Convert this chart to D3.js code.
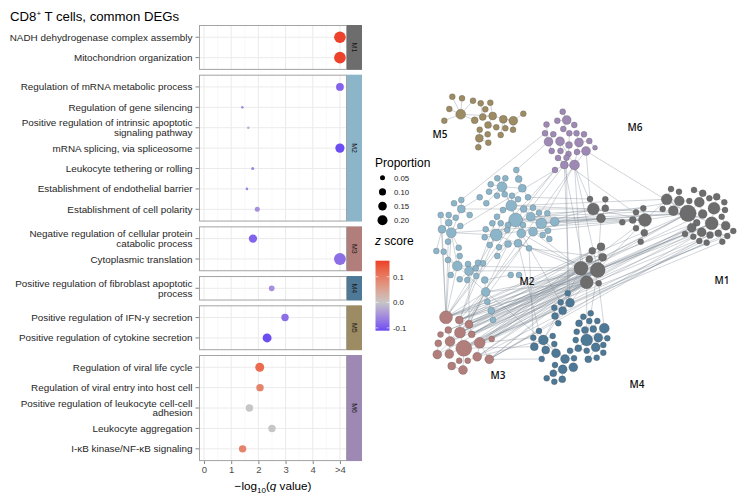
<!DOCTYPE html>
<html><head><meta charset="utf-8">
<script src="https://cdn.jsdelivr.net/npm/d3@7"></script>
<style>body{margin:0;background:#fff}svg{display:block;font-family:"Liberation Sans",Arial,sans-serif}</style>
</head><body><svg id="c" width="743" height="500"></svg>
<script>
// ---------------- DATA ----------------
const modules = ["M1","M2","M3","M4","M5","M6"];
const moduleColors = ["#6d6d6d","#8cb5ca","#b27e7b","#4d7896","#9c8b63","#9d89b4"];
const termLabels = [
 "NADH dehydrogenase complex assembly",
 "Mitochondrion organization",
 "Regulation of mRNA metabolic process",
 "Regulation of gene silencing",
 "Positive regulation of intrinsic apoptotic\nsignaling pathway",
 "mRNA splicing, via spliceosome",
 "Leukocyte tethering or rolling",
 "Establishment of endothelial barrier",
 "Establishment of cell polarity",
 "Negative regulation of cellular protein\ncatabolic process",
 "Cytoplasmic translation",
 "Positive regulation of fibroblast apoptotic\nprocess",
 "Positive regulation of IFN-\u03B3 secretion",
 "Positive regulation of cytokine secretion",
 "Regulation of viral life cycle",
 "Regulation of viral entry into host cell",
 "Positive regulation of leukocyte cell-cell\nadhesion",
 "Leukocyte aggregation",
 "I-\u03BAB kinase/NF-\u03BAB signaling"
];
const termModule = ["M1","M1","M2","M2","M2","M2","M2","M2","M2","M3","M3","M4","M5","M5","M6","M6","M6","M6","M6"];
// -log10(q); 5 stands for ">4"
const negLog10Q = [5,5,5,1.41,1.63,5,1.79,1.58,1.96,1.8,5,2.49,2.98,2.32,2.05,2.06,1.67,2.5,1.42];
const proportion = [0.27,0.27,0.12,0.014,0.014,0.17,0.018,0.014,0.05,0.14,0.28,0.065,0.11,0.16,0.16,0.11,0.11,0.11,0.11];
const zScore = [0.16,0.16,-0.09,-0.05,-0.02,-0.11,-0.06,-0.06,-0.05,-0.09,-0.08,-0.05,-0.08,-0.11,0.12,0.09,0.0,0.0,0.09];
const xTickValues = [0,1,2,3,4,5];
const xTickLabels = ["0","1","2","3","4",">4"];
const sizeLegendValues = [0.05,0.10,0.15,0.20];
const sizeLegendLabels = ["0.05","0.10","0.15","0.20"];
const zLegendValues = [0.1,0.0,-0.1];
const zLegendLabels = ["0.1","0.0","-0.1"];

// Network layout (layout units), [x, y, weight]
const netM1 = [[590,199,3],[605.3,199.3,3],[593.3,209,6],[605.3,208.3,3.5],[601,218.3,4.5],[643.3,208.3,3],[636,212.3,3],[632.7,220,3.5],[645,220,6.5],[622.3,222.3,3],[636,228.3,3],[644.3,232.7,3.5],[640.7,241.7,3],
 [671,189,3],[679,191.7,3],[666.7,199.3,5.5],[679.3,201,5],[694,190,3],[702.7,193.3,3.5],[709.3,198.3,3],[716.7,196.7,3.5],[689.3,201,3],[699.3,202.3,5],[724.3,202.3,3],[662.7,209,3],[673.3,210.7,5],[688,213.3,8.3],[702.7,214,4.5],[714,208.3,6],[725,210,3],[696.7,222.7,3.5],[711.7,223.3,6.5],[721.7,216.7,3],[691.7,227.7,4.5],[701.7,232.3,4.5],[725.7,225.7,4.5],[733.3,231,3],[685,234,3],[693.3,236.7,3],[710,235,3.5],[718.3,233.3,3.5],[727.3,236,3],[699.3,241,3],[706.7,242.7,3],[722.3,241.7,3],
 [592.3,250.7,3.5],[601,246.7,4],[589.3,259.3,3.5],[602.7,257.3,4],[581,268.3,7],[597.7,270,7.5],[586.7,282.3,6.5],[598.7,283.3,3]];
const netM2 = [[516.3,170,3],[497.3,178.3,3],[505.3,178.3,3],[490.7,184.3,3],[502,186.7,5],[518.7,179,3.5],[522.3,188.3,4],[489,191.7,3],[497,195.7,3],[504.7,194.3,3],[512,195.7,3],[479.7,197.3,3],[518,199.3,3],[528,197.3,3],[486.3,203.3,3],[511.3,205.7,5.5],[523.7,209,3.5],[533,207.7,3],[503,210,3],[497,216.7,3],[515.7,220,7],[530.7,216.7,4.5],[539,212.7,3],[547.3,213.3,3],[541.3,223.3,5.5],[554.7,221.7,4.5],[492.3,223.3,3],[500.7,223.3,3],[508,225,3],[523,225,3],[533,231.7,4.5],[548,230.7,3],[485.7,229.3,3],[507.3,230,3],[496.3,235,6],[521.3,233.3,4.5],[542.7,235,3],[484.7,237.3,3],[489.7,245,3],[499,247.3,3],[508,244,3.5],[518,243.3,4],[529,248.3,3],[549.3,239,3],[497.3,256,3],
 [461.3,200,3],[454,203.3,3],[440.7,215,3],[448.7,215,3],[461.3,209,4],[455.7,217.7,3],[469.7,215,3],[448.7,222.7,3.5],[460.3,226,3],[442,229.3,4],[451.3,232.7,5],[448,241.7,3],
 [436.3,251,3],[443.7,251.7,3],[458.7,247.7,3],[459.7,256,3],[448,260,3],[457.3,266,5],[468,264,3],[469,271,4.5],[478,262.7,3],[475.7,268.3,3],[483,263.3,3],[450.7,275,3],[459.7,279.3,3],[467.3,280,3],[476.3,276,3],[484.7,280,3.5],[485.7,292,4.5],[487.3,301.7,3],[491.3,310.7,3.5],[493,320,3],[510.7,275,3],[519,275,3]];
const netM3 = [[446,317.3,6.5],[459.3,320,4],[469,324.3,4],[448.3,330,3.5],[460,332.5,5.5],[471.7,334.3,3.5],[440.5,334.5,3],[491.7,339,3],[450,341.5,5],[479.7,342.8,5.5],[438.3,343.3,3.5],[463.8,348.3,8],[437.3,354.5,4.5],[449.3,354,4.5],[477.2,356.7,4.5],[459.2,360.7,3],[467.7,360.7,3],[489.3,359.3,4.5],[451.7,366,4],[463,370,4.5]];
const netM4 = [[567.7,293.3,3],[560.7,302.3,3],[570,302.7,4.5],[554.3,307.7,3],[562.7,310.7,4],[555,316,3.5],[558.3,323.3,3],
 [539,331,3],[533.3,337.7,3],[543.3,340,5],[552.7,336,3],[534.3,346.7,4],[545.7,350,4],[554.3,344,3],[556,353.3,4.5],[541.7,359,3],[570,350.7,3],
 [565,359,4.5],[574,358.3,3],[555,365,3],[562.7,369.3,4.5],[573.3,367.3,4.5],[553.3,373.3,3.5],[546.7,378.3,3],[554.3,381.7,3],[562.3,379.3,3.5],
 [590.7,313.3,3],[583.3,316.7,3],[579,323.3,3.5],[589.3,321,3],[597.3,321,3],[604.3,328.3,5],[576.7,331.7,3],[585,330,3.5],[593.3,329,3.5],[575.7,340,3],[586.7,340,6],[598.3,337.7,4.5],[607.3,338.3,3],[578.3,348.3,3.5],[586.7,350.7,3],[595.7,347.3,4.5],[603.3,345,3],[588.3,359.3,3.5],[596.7,357.7,3],[603.3,352.7,3]];
const netM5 = [[460.7,114.3,5],[452.3,96.7,3],[462,98.3,3],[473,100.7,3],[449.3,109,3],[444.3,120.7,3],[474.7,120.3,3.5],[480.7,103.3,3],[490.3,102.7,3],[485.3,109.3,3],[482.7,117,3.5],[492.7,116,4],[503.3,119.3,4],[513.3,120.7,4.5],[523.3,113.7,3],[488,125,3.5],[496.3,127.3,3],[505.3,128.3,3],[513,129.7,3],[479.7,129.7,3],[487.7,134.3,3],[500.7,135,3],[479.3,138.3,4],[488.3,142.7,3],[478.3,147.3,3]];
const netM6 = [[562.7,111.7,3],[557.3,120.7,3],[566.7,120,4.5],[546.5,124.5,3],[574.3,125,3],[563.3,129,3],[545,133.3,3],[553.3,134.3,3],[569.3,133.3,3],[576.5,133.3,3],[584,134.3,3],[548.5,141.7,4.5],[560,141.3,4.5],[569,145,3.5],[579,142.5,4.5],[589.3,141,3],[595,147.7,2.5],[551.7,151,3],[560.5,151,3],[568.5,154,3],[577,152,3],[586,151,4.5],[558,158,3],[566.5,157.7,3],[555,170,3],[564.3,165,4],[574.5,165,5]];
const netLabelPos = [[722,280],[527,281],[498,375],[637,384],[440,134],[635,127]];
// cross-module and sub-cluster links: [moduleIndex, node, moduleIndex, node]
const netLinks = [
 [2,0,0,49],[2,0,0,50],[2,1,0,49],[2,1,0,50],[2,2,0,51],[2,4,0,50],[2,4,0,26],[2,5,0,49],[2,7,0,50],[2,7,0,51],[2,9,0,49],[2,9,0,31],[2,11,0,50],[2,11,0,33],[2,14,0,51],[2,17,0,51],[2,17,0,34],[2,2,0,37],[2,5,0,38],[2,9,0,42],[2,0,0,46],[2,1,0,48],[2,4,0,47],[2,0,0,30],[2,11,0,44],[2,14,0,40],[2,17,0,35],[2,2,0,27],[2,7,0,43],[2,9,0,45],[2,0,0,26],[2,3,0,31],[2,8,0,39],[2,12,0,50],[2,13,0,51],[2,1,0,34],[2,5,0,41],
 [2,2,0,49],[2,5,0,50],[2,9,0,50],[2,11,0,49],[2,4,0,51],[2,1,0,51],[2,0,0,51],[2,5,0,26],[2,9,0,36],[2,4,0,31],[2,2,0,33],[2,11,0,30],[2,14,0,50],[2,7,0,49],[2,17,0,50],[2,3,0,50],[2,8,0,49],[2,1,0,46],[2,2,0,45],[2,5,0,48],
 [2,9,3,8],[2,17,3,7],[2,11,3,11],[2,14,3,9],[2,17,3,15],
 [2,0,1,55],[2,0,1,62],[2,1,1,34],[2,0,1,20],[2,2,1,64],[2,4,1,73],[2,1,1,24],[2,0,1,54],[2,0,1,52],[2,2,1,40],[2,8,1,41],[2,4,1,30],[2,0,1,47],[2,1,1,19],[2,0,1,73],[2,2,1,73],[2,0,1,34],
 [1,20,0,2],[1,20,0,8],[1,24,0,2],[1,24,0,8],[1,25,0,4],[1,25,0,26],[1,15,0,15],[1,21,0,25],[1,30,0,9],[1,13,0,0],[1,49,0,2],[1,55,0,8],[1,34,0,4],[1,35,0,49],[1,41,0,50],[1,42,0,48],[1,24,0,26],[1,20,0,26],[1,25,0,16],[1,62,0,49],[1,64,0,50],[1,73,0,50],[1,73,0,51],[1,34,0,49],[1,23,0,5],[1,15,0,2],[1,21,0,8],[1,30,0,49],
 [5,24,1,20],[5,26,1,24],[5,26,0,49],[5,26,0,50],[5,25,0,51],[5,23,3,0],[5,24,1,34],[5,26,1,41],[5,22,0,8],[5,11,1,0],[5,6,1,45],[5,25,3,2],[5,26,0,2],[5,21,0,0],[5,24,1,55],[5,25,2,0],[5,21,0,26],
 [3,36,0,51],[3,31,0,52],[3,2,0,51],[3,0,0,50],[3,9,0,49],[3,36,0,50],[3,9,1,73],[3,7,1,41],[3,1,1,35],[3,8,1,42],
 [0,2,0,8],[0,8,0,26],[0,4,0,50],[0,2,0,26],[0,8,0,50],[0,49,0,26],[0,50,0,31],[0,8,0,15],[0,49,0,8],[0,50,0,33],
 [1,20,1,34],[1,20,1,15],[1,55,1,62],[1,34,1,55],[1,62,1,73],[1,4,1,15],
 [3,9,3,4],[3,36,3,17],[3,9,3,17],[4,0,4,11]
];

// ---------------- CHART ----------------
const svg = d3.select("#c");
const FONT = '"Liberation Sans", Arial, Helvetica, sans-serif';

const title = svg.append("text").attr("x",10).attr("y",21).attr("font-size",13.2).attr("fill","#000").attr("font-family",FONT);
title.append("tspan").text("CD8");
title.append("tspan").attr("font-size",8).attr("dy",-5).text("+");
title.append("tspan").attr("dy",5).text(" T cells, common DEGs");

const panelLeft = 199, panelRight = 347, stripW = 15;
const rowH = 20.4, gapH = 4.8, top0 = 25, padU = 0.6;
const x = d3.scaleLinear().domain([-0.184, 5.26]).range([panelLeft, panelRight]);
const sizeScale = d3.scaleSqrt().domain([0,0.2]).range([0,5]);
const zColor = d3.scaleLinear().domain([-0.111,0,0.163]).range(["#6a4cf2","#c6c6c6","#ec3d27"]).interpolate(d3.interpolateLab).clamp(true);

const terms = termLabels.map((t,i)=>({label:t,module:termModule[i],q:negLog10Q[i],p:proportion[i],z:zScore[i],id:i}));

let yCursor = top0;
let lastBottom = 0;
modules.forEach((m,mi)=>{
  const rows = terms.filter(d=>d.module===m);
  const n = rows.length;
  const h = (n-1+2*padU)*rowH;
  const y = d3.scalePoint().domain(rows.map(d=>d.id)).range([yCursor, yCursor+h]).padding(padU);
  const g = svg.append("g");
  g.append("rect").attr("x",panelLeft).attr("y",yCursor).attr("width",panelRight-panelLeft).attr("height",h).attr("fill","#fff");
  d3.range(0.5,5,1).forEach(v=>{
    g.append("line").attr("x1",x(v)).attr("x2",x(v)).attr("y1",yCursor).attr("y2",yCursor+h).attr("stroke","#f2f2f2").attr("stroke-width",0.5);
  });
  xTickValues.forEach(v=>{
    g.append("line").attr("x1",x(v)).attr("x2",x(v)).attr("y1",yCursor).attr("y2",yCursor+h).attr("stroke","#ebebeb").attr("stroke-width",1);
  });
  rows.forEach(d=>{
    g.append("line").attr("x1",panelLeft).attr("x2",panelRight).attr("y1",y(d.id)).attr("y2",y(d.id)).attr("stroke","#ebebeb").attr("stroke-width",1);
  });
  g.append("rect").attr("x",panelLeft+0.5).attr("y",yCursor+0.5).attr("width",panelRight-panelLeft-1).attr("height",h-1).attr("fill","none").attr("stroke","#a3a3a3").attr("stroke-width",1);
  g.selectAll("circle.dot").data(rows).join("circle").attr("class","dot")
    .attr("cx",d=>x(d.q)).attr("cy",d=>y(d.id)).attr("r",d=>sizeScale(d.p)).attr("fill",d=>zColor(d.z));
  rows.forEach(d=>{
    const yy = y(d.id);
    g.append("line").attr("x1",panelLeft-3.5).attr("x2",panelLeft).attr("y1",yy).attr("y2",yy).attr("stroke","#333").attr("stroke-width",0.6);
    const lines = d.label.split("\n");
    const lh = 9.7;
    const t = g.append("text").attr("text-anchor","end").attr("font-size",9.9).attr("fill","#262626").attr("font-family",FONT);
    lines.forEach((ln,k)=>{
      t.append("tspan").attr("x",panelLeft-6.5).attr("y",yy + (k-(lines.length-1)/2)*lh + 3.5).text(ln);
    });
  });
  g.append("rect").attr("x",panelRight).attr("y",yCursor).attr("width",stripW).attr("height",h).attr("fill",moduleColors[mi]);
  g.append("text").attr("transform",`translate(${panelRight+stripW/2-2.3},${yCursor+h/2}) rotate(90)`)
    .attr("text-anchor","middle").attr("font-size",7).attr("fill","#1a1a1a").attr("font-family",FONT).text(m);
  lastBottom = yCursor + h;
  yCursor += h + gapH;
});

const xAxis = d3.axisBottom(x).tickValues(xTickValues).tickFormat((d,i)=>xTickLabels[i]).tickSize(3).tickPadding(2.5);
const ax = svg.append("g").attr("transform",`translate(0,${lastBottom})`).call(xAxis);
ax.select(".domain").remove();
ax.selectAll(".tick line").attr("stroke","#333").attr("stroke-width",0.6);
ax.selectAll(".tick text").attr("fill","#4d4d4d").attr("font-size",9.5).attr("font-family",FONT);
const xt = svg.append("text").attr("x",273).attr("y",490).attr("text-anchor","middle").attr("font-size",11.7).attr("fill","#000").attr("font-family",FONT);
xt.append("tspan").text("\u2212log");
xt.append("tspan").attr("font-size",8).attr("dy",3).text("10");
xt.append("tspan").attr("dy",-3).text("(");
xt.append("tspan").attr("font-style","italic").text("q");
xt.append("tspan").text(" value)");

svg.append("text").attr("x",375).attr("y",167).attr("font-size",12).attr("fill","#000").attr("font-family",FONT).text("Proportion");
const legY = d3.scalePoint().domain(sizeLegendValues).range([177.7,220.3]);
sizeLegendValues.forEach((v,i)=>{
  svg.append("circle").attr("cx",382.5).attr("cy",legY(v)).attr("r",sizeScale(v)).attr("fill","#000");
  svg.append("text").attr("x",394).attr("y",legY(v)+2.8).attr("font-size",7.8).attr("fill","#1a1a1a").attr("font-family",FONT).text(sizeLegendLabels[i]);
});
const zt = svg.append("text").attr("x",375).attr("y",245).attr("font-size",12).attr("fill","#000").attr("font-family",FONT);
zt.append("tspan").attr("font-style","italic").text("z");
zt.append("tspan").text(" score");
const zBar = d3.scaleLinear().domain([-0.111,0.163]).range([330.7,260.7]);
const defs = svg.append("defs");
const grad = defs.append("linearGradient").attr("id","zg").attr("x1",0).attr("x2",0).attr("y1",1).attr("y2",0);
d3.range(0,1.0001,0.05).forEach(t=>{
  const v = -0.111 + t*(0.163+0.111);
  grad.append("stop").attr("offset",t).attr("stop-color",zColor(v));
});
svg.append("rect").attr("x",375.5).attr("y",260.7).attr("width",14).attr("height",70).attr("fill","url(#zg)");
zLegendValues.forEach((v,i)=>{
  const yy = zBar(v);
  svg.append("line").attr("x1",375.5).attr("x2",378.3).attr("y1",yy).attr("y2",yy).attr("stroke","#fff").attr("stroke-width",0.6);
  svg.append("line").attr("x1",386.7).attr("x2",389.5).attr("y1",yy).attr("y2",yy).attr("stroke","#fff").attr("stroke-width",0.6);
  svg.append("text").attr("x",393).attr("y",yy+2.8).attr("font-size",7.8).attr("fill","#1a1a1a").attr("font-family",FONT).text(zLegendLabels[i]);
});

// ---------------- NETWORK ----------------
const netData = [netM1,netM2,netM3,netM4,netM5,netM6];
const nx = d3.scaleLinear().domain([425,745]).range([425,745]);
const ny = d3.scaleLinear().domain([85,390]).range([85,390]);
const nr = d3.scaleLinear().domain([0,10]).range([0,10]);
const nodes = [];
netData.forEach((arr,mi)=>arr.forEach((d,k)=>nodes.push({m:mi,k,x:d[0],y:d[1],w:d[2]})));
const byKey = (m,k)=>nodes.find(n=>n.m===m&&n.k===k);
const links = [];
netData.forEach((arr,mi)=>{
  const ns = nodes.filter(n=>n.m===mi);
  ns.forEach(n=>{
    let best=null,bd=Infinity;
    ns.forEach(o=>{ if(o!==n && o.w>n.w){ const dd=Math.hypot(o.x-n.x,o.y-n.y); if(dd<bd){bd=dd;best=o;} } });
    if(best && bd<28) links.push([n,best]);
  });
});
netLinks.forEach(l=>{ const a=byKey(l[0],l[1]), b=byKey(l[2],l[3]); if(a&&b) links.push([a,b]); });
const ng = svg.append("g");
ng.selectAll("line").data(links).join("line")
  .attr("x1",d=>nx(d[0].x)).attr("y1",d=>ny(d[0].y)).attr("x2",d=>nx(d[1].x)).attr("y2",d=>ny(d[1].y))
  .attr("stroke","#7f8a94").attr("stroke-opacity",0.6).attr("stroke-width",0.6);
ng.selectAll("circle").data(nodes).join("circle")
  .attr("cx",d=>nx(d.x)).attr("cy",d=>ny(d.y)).attr("r",d=>nr(d.w))
  .attr("fill",d=>moduleColors[d.m]).attr("stroke","#444").attr("stroke-opacity",0.45).attr("stroke-width",0.5);
modules.forEach((m,i)=>{
  svg.append("text").attr("x",nx(netLabelPos[i][0])).attr("y",ny(netLabelPos[i][1])+3.5).attr("text-anchor","middle")
    .attr("font-size",10).attr("font-weight",600).attr("fill","#111").attr("font-family",'"Open Sans", "Noto Sans", sans-serif').text(m);
});
</script></body></html>
